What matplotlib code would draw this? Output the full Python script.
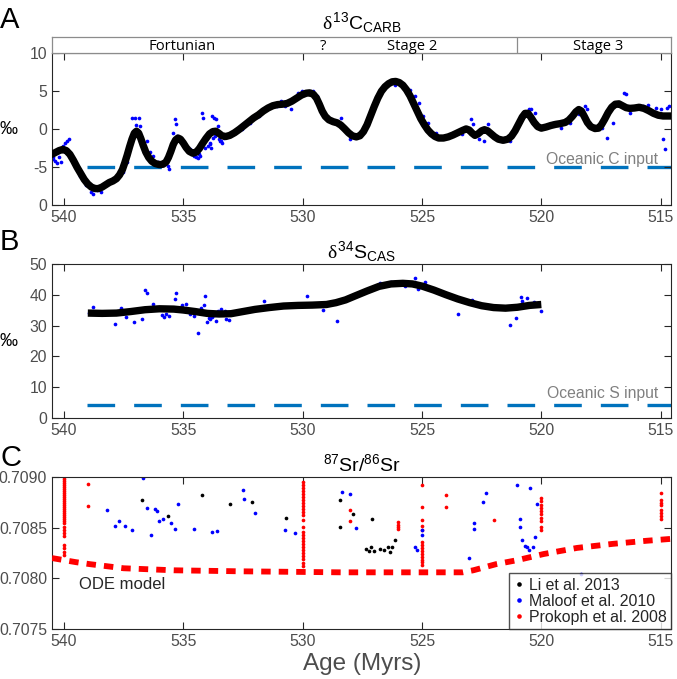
import matplotlib
matplotlib.use("Agg")
import matplotlib.pyplot as plt
from matplotlib.lines import Line2D

plt.rcParams['font.family'] = ['Liberation Sans', 'DejaVu Sans']
plt.rcParams['axes.unicode_minus'] = False
plt.rcParams['lines.scale_dashes'] = False
plt.rcParams['mathtext.fontset'] = 'custom'
plt.rcParams['mathtext.rm'] = 'Liberation Sans'
plt.rcParams['mathtext.it'] = 'Liberation Serif'
plt.rcParams['mathtext.default'] = 'rm'

# ---------------- data ----------------
c13_curve_age = [540.51, 540.35, 540.2, 540.05, 539.9, 539.75, 539.6, 539.45, 539.3, 539.15,
                 539.0, 538.85, 538.7, 538.55, 538.4, 538.25, 538.1, 537.95, 537.8, 537.67,
                 537.55, 537.45, 537.35, 537.25, 537.15, 537.05, 536.96, 536.87, 536.78, 536.68,
                 536.57, 536.45, 536.32, 536.18, 536.0, 535.85, 535.72, 535.62, 535.52, 535.42,
                 535.32, 535.22, 535.12, 535.0, 534.88, 534.75, 534.6, 534.45, 534.32, 534.2,
                 534.05, 533.9, 533.76, 533.64, 533.52, 533.38, 533.22, 533.05, 532.85, 532.65,
                 532.45, 532.25, 532.05, 531.85, 531.65, 531.45, 531.25, 531.05, 530.85, 530.65,
                 530.45, 530.25, 530.05, 529.85, 529.7, 529.55, 529.42, 529.3, 529.18, 529.05,
                 528.9, 528.72, 528.55, 528.4, 528.25, 528.08, 527.92, 527.75, 527.6, 527.45,
                 527.3, 527.15, 527.0, 526.85, 526.7, 526.55, 526.4, 526.25, 526.1, 525.95,
                 525.8, 525.65, 525.5, 525.35, 525.2, 525.05, 524.9, 524.75, 524.6, 524.45,
                 524.3, 524.1, 523.9, 523.7, 523.5, 523.3, 523.15, 523.02, 522.9, 522.78,
                 522.65, 522.5, 522.38, 522.25, 522.1, 521.95, 521.8, 521.6, 521.4, 521.25,
                 521.1, 520.95, 520.8, 520.68, 520.56, 520.44, 520.3, 520.15, 520.0, 519.8,
                 519.6, 519.4, 519.2, 519.0, 518.85, 518.7, 518.55, 518.43, 518.32, 518.2,
                 518.07, 517.93, 517.75, 517.6, 517.48, 517.35, 517.2, 517.05, 516.9, 516.75,
                 516.6, 516.45, 516.3, 516.1, 515.9, 515.7, 515.5, 515.3, 515.1, 514.9,
                 514.54]
c13_curve_val = [-3.3, -3.05, -2.8, -2.65, -2.8, -3.3, -4.1, -5.0, -5.8, -6.6,
                 -7.2, -7.6, -7.8, -7.8, -7.6, -7.3, -7.0, -6.8, -6.5, -6.0,
                 -5.3, -4.4, -3.4, -2.3, -1.3, -0.5, -0.25, -0.5, -1.2, -2.1,
                 -3.0, -3.7, -4.2, -4.5, -4.65, -4.6, -4.3, -3.7, -2.9, -2.0,
                 -1.4, -1.15, -1.3, -1.8, -2.4, -2.9, -3.15, -3.0, -2.5, -1.9,
                 -1.2, -0.6, -0.3, -0.25, -0.5, -0.85, -0.95, -0.8, -0.45, 0.0,
                 0.5, 1.0, 1.5, 1.9, 2.4, 2.8, 3.1, 3.25, 3.3, 3.4,
                 3.7, 4.1, 4.5, 4.75, 4.8, 4.6, 4.1, 3.3, 2.4, 1.7,
                 1.25, 1.0, 0.85, 0.55, 0.1, -0.45, -0.85, -1.0, -0.85, -0.3,
                 0.6, 1.8, 3.0, 4.1, 5.0, 5.6, 6.0, 6.25, 6.3, 6.15,
                 5.8, 5.2, 4.4, 3.4, 2.4, 1.4, 0.6, -0.1, -0.6, -0.95,
                 -1.15, -1.15, -1.0, -0.75, -0.45, -0.15, 0.05, -0.1, -0.5, -0.8,
                 -0.6, -0.2, -0.05, -0.2, -0.6, -1.0, -1.3, -1.45, -1.3, -0.9,
                 -0.2, 0.7, 1.6, 2.1, 2.1, 1.6, 0.9, 0.35, 0.15, 0.3,
                 0.5, 0.65, 0.75, 0.9, 1.2, 1.7, 2.3, 2.6, 2.4, 1.7,
                 0.9, 0.35, 0.1, 0.15, 0.6, 1.3, 2.2, 2.9, 3.3, 3.35,
                 3.1, 2.85, 2.75, 2.8, 2.9, 2.75, 2.45, 2.1, 1.85, 1.75,
                 1.75]

c13_age = [540.47, 540.36, 540.14, 540.05, 539.96, 539.88, 539.79, 539.51, 539.33, 539.06,
           538.88, 538.78, 538.61, 538.43, 538.34, 538.07, 537.88, 537.70, 537.52, 537.35,
           537.16, 537.03, 536.85, 536.80, 536.98, 536.53, 536.38, 536.25, 536.08, 535.81,
           535.62, 535.58, 535.71, 535.35, 535.32, 535.44, 535.26, 534.72, 534.54, 534.45,
           534.36, 534.22, 534.18, 533.99, 533.90, 533.81, 533.72, 533.63, 533.55, 533.46,
           533.36, 533.27, 532.91, 532.54, 532.19, 531.83, 531.64, 531.46, 531.09, 530.92,
           530.74, 530.47, 530.19, 530.01, 529.75, 529.57, 529.38, 529.2, 529.02, 528.75,
           528.48, 528.39, 528.21, 528.03, 526.12, 525.86, 525.49, 525.31, 525.13, 524.95,
           524.76, 524.41, 524.05, 523.68, 523.33, 522.96, 522.87, 522.6, 522.41, 522.23,
           522.06, 521.88, 521.33, 520.52, 520.43, 520.25, 519.88, 519.53, 519.16, 518.8,
           518.43, 518.17, 518.08, 517.71, 517.44, 517.26, 516.99, 516.54, 516.45, 516.27,
           516.08, 515.73, 515.55, 515.18, 515.0, 514.91, 514.82, 514.72, 514.63,
           540.45, 540.3, 540.22, 534.4, 534.3, 534.1, 533.95, 533.88, 533.84, 533.75,
           533.68, 533.5, 533.4, 533.3]
c13_val = [-3.70, -4.13, -4.35, -2.17, -1.74, -1.52, -1.30, -5.0, -6.09, -7.39,
           -8.26, -8.48, -8.04, -8.26, -7.17, -6.74, -6.52, -6.09, -5.65, -4.35,
           1.52, 1.52, 1.52, 0.43, 0.52, -1.52, -3.04, -3.48, -4.35, -4.57,
           -4.78, -5.22, -3.91, 1.30, 0.65, -0.43, -0.87, -2.61, -3.48, -3.70,
           -3.26, 2.09, 1.52, -1.30, -1.74, 1.74, 1.52, 1.30, 0.43, -1.52,
           -1.74, -0.87, -0.43, 0.0, 0.87, 1.74, 2.61, 2.83, 3.04, 3.70,
           3.04, 2.61, 4.78, 5.0, 4.78, 5.0, 4.35, 1.96, 1.74, 1.09,
           0.65, 1.52, 0.0, -1.30, 5.87, 6.09, 5.22, 4.35, 3.48, 1.74,
           0.87, -0.43, -1.09, -0.43, -0.65, 1.30, 0.65, -1.30, -1.52, 0.65,
           -0.43, -0.87, -1.52, 2.61, 2.61, 2.17, 0.22, 0.87, 0.22, 0.87,
           1.96, 3.04, 2.61, 0.0, 0.22, -1.09, 0.87, 4.78, 4.70, 2.17,
           2.83, 3.04, 3.26, 2.83, 2.61, -1.30, -2.61, 2.83, 3.04,
           -3.9, -4.4, -3.6, -3.8, -3.5, -2.5, -2.2, -1.9, -2.4, -1.1,
           -0.9, -1.3, -1.6, -1.2]

s34_curve_age = [539.0, 538.4, 537.8, 537.2, 536.6, 536.0, 535.4, 535.0, 534.5, 534.0,
                 533.5, 533.0, 532.5, 532.0, 531.4, 530.8, 530.2, 529.6, 529.0, 528.6,
                 528.2, 527.8, 527.3, 526.8, 526.3, 525.8, 525.4, 525.0, 524.5, 524.0,
                 523.5, 523.0, 522.5, 522.0, 521.5, 521.0, 520.5, 520.0]
s34_curve_val = [34.1, 34.0, 34.1, 34.6, 35.2, 35.5, 35.4, 35.1, 34.6, 34.0,
                 33.8, 33.9, 34.6, 35.3, 35.9, 36.4, 36.6, 36.7, 36.9, 37.5,
                 38.4, 39.7, 41.3, 42.8, 43.6, 43.8, 43.6, 42.9, 41.6, 40.1,
                 38.7, 37.5, 36.5, 35.9, 35.7, 36.0, 36.6, 36.9]

s34_age = [538.97, 538.79, 537.88, 537.61, 537.40, 537.07, 536.71, 536.62, 536.53, 536.27,
           535.89, 535.80, 535.71, 535.59, 535.35, 535.31, 535.04, 534.90, 534.72, 534.54,
           534.39, 534.27, 534.18, 534.12, 534.08, 533.99, 533.94, 533.87, 533.81, 533.72,
           533.63, 533.54, 533.42, 533.27, 533.23, 533.09, 531.61, 529.80, 529.15, 528.57,
           528.39, 526.76, 526.31, 526.18, 525.73, 525.31, 525.17, 524.86, 523.50, 523.32,
           522.92, 521.33, 521.06, 520.84, 520.79, 520.61, 520.30, 520.03]
s34_val = [34.0, 36.0, 30.5, 35.7, 32.7, 31.2, 32.3, 41.6, 40.8, 37.2,
           33.5, 32.7, 33.8, 33.2, 38.8, 40.5, 36.6, 37.0, 33.7, 33.3,
           27.7, 35.8, 34.9, 36.8, 39.7, 31.3, 32.5, 32.1, 32.9, 33.5,
           31.4, 34.8, 35.5, 34.8, 32.1, 32.0, 37.9, 39.7, 35.1, 31.4,
           38.5, 44.0, 44.3, 44.2, 42.9, 45.4, 41.8, 44.3, 33.8, 38.6,
           38.4, 30.2, 32.4, 39.3, 37.9, 38.9, 37.6, 34.9]

li_age = [536.71, 535.62, 534.21, 533.05, 532.13, 530.68, 528.42, 528.44, 527.88, 527.08,
          527.34, 527.21, 527.12, 526.99, 526.76, 526.61, 526.43, 526.34, 526.25, 526.13]
li_val = [0.70877, 0.70861, 0.70882, 0.70873, 0.70875, 0.70859, 0.70877, 0.70851, 0.70863, 0.70858,
          0.70829, 0.70827, 0.70831, 0.70827, 0.70829, 0.70828, 0.70831, 0.70826, 0.70831, 0.70838]

maloof_age = [538.19, 537.87, 537.68, 537.43, 537.14, 536.69, 536.51, 536.35, 536.20, 536.09,
              536.02, 535.84, 535.53, 535.35, 535.22, 534.54, 533.78, 533.58, 532.51, 532.44,
              532.00, 530.74, 530.30, 528.37, 528.01, 527.75, 525.31, 525.22, 524.99, 525.00,
              523.01, 522.83, 522.80, 522.44, 522.31, 521.28, 521.02, 520.91, 520.90, 520.82,
              520.70, 520.61, 520.52, 520.46, 520.34, 520.28, 520.19, 518.35]
maloof_val = [0.70867, 0.70852, 0.70856, 0.70852, 0.70848, 0.70899, 0.70869, 0.70843, 0.70868, 0.70866,
              0.70856, 0.70858, 0.70854, 0.70849, 0.70873, 0.70849, 0.70846, 0.70847, 0.70887, 0.70878,
              0.70864, 0.70848, 0.70845, 0.70885, 0.70883, 0.70850, 0.70831, 0.70828, 0.70848, 0.70843,
              0.70820, 0.70854, 0.70849, 0.70875, 0.70884, 0.70817, 0.70892, 0.70858, 0.70851, 0.70838,
              0.70832, 0.70831, 0.70828, 0.70889, 0.70831, 0.70841, 0.70873, 0.70804]

prok_540 = [0.70900, 0.70898, 0.70896, 0.70894, 0.70892, 0.70890, 0.70888, 0.70886, 0.70884, 0.70882,
            0.70880, 0.70878, 0.70876, 0.70874, 0.70872, 0.70870, 0.70868, 0.70866, 0.70864, 0.70862,
            0.70860, 0.70858, 0.70856, 0.70854, 0.70851, 0.70848, 0.70845, 0.70842, 0.70833, 0.70830,
            0.70826, 0.70823]
prok_539 = [0.70893, 0.70871]
prok_530 = [0.70895, 0.70892, 0.70889, 0.70886, 0.70883, 0.70880, 0.70877, 0.70874, 0.70871, 0.70868,
            0.70865, 0.70862, 0.70857, 0.70851, 0.70846, 0.70843, 0.70840, 0.70837, 0.70834, 0.70831,
            0.70828, 0.70825, 0.70822, 0.70819, 0.70815, 0.70812]
prok_528 = [0.70867, 0.70856]
prok_526 = [0.70855, 0.70853, 0.70851, 0.70849]
prok_525 = [0.70892, 0.70870, 0.70857, 0.70852, 0.70848, 0.70836, 0.70833, 0.70830, 0.70827, 0.70824,
            0.70821, 0.70818, 0.70816, 0.70813]
prok_524 = [0.70882, 0.70870]
prok_522 = [0.70857]
prok_520 = [0.70879, 0.70876, 0.70872, 0.70869, 0.70866, 0.70863, 0.70859, 0.70856, 0.70851, 0.70848]
prok_515 = [0.70884, 0.70877, 0.70874, 0.70872, 0.70867, 0.70864, 0.70861, 0.70858]

ode_age = [540.5, 539.5, 538.9, 537.5, 535.4, 532.6, 528.4, 523.3, 522.85, 521.9,
           521.0, 519.9, 518.5, 517.0, 515.6, 514.5]
ode_val = [0.70820, 0.70816, 0.70814, 0.70810, 0.70808, 0.70807, 0.70806, 0.70806, 0.70808, 0.70814,
           0.70818, 0.70824, 0.70830, 0.70834, 0.70837, 0.70839]

stage_names = ['Fortunian', '?', 'Stage 2', 'Stage 3']
stage_label_age = [535.06, 529.16, 525.4, 517.6]
stage_boundary = 521.0

x_ticks = [540, 535, 530, 525, 520, 515]
c_ticks = [-10, -5, 0, 5, 10]
c_ticklabels = ['0', '-5', '0', '5', '10']
s_ticks = [0, 10, 20, 30, 40, 50]
sr_ticks = [0.7075, 0.7080, 0.7085, 0.7090]
sr_ticklabels = ['0.7075', '0.7080', '0.7085', '0.7090']
c_input = -5
s_input = 4

# ---------------- figure ----------------
W, H = 677, 679
fig = plt.figure(figsize=(W / 100, H / 100), dpi=100)

def fx(px):
    return px / W

def fy(py):
    return 1 - py / H

left, right = 52, 671.4
XLIM = (540.5, 514.55)
axcol = (0.15, 0.15, 0.15)
tickcol = (0.3, 0.3, 0.3)
blue_line = '#0072BD'


def style(ax):
    ax.set_xlim(*XLIM)
    ax.set_xticks(x_ticks)
    ax.tick_params(direction='in', top=True, right=True, length=5, width=0.8,
                   color=axcol, labelcolor=tickcol, labelsize=11.3, pad=3.5)
    for s in ax.spines.values():
        s.set_color(axcol)
        s.set_linewidth(0.8)


axA = fig.add_axes([fx(left), fy(205.3), fx(right - left), (205.3 - 53.3) / H])
axS = fig.add_axes([fx(left), fy(53.3), fx(right - left), (53.3 - 36.7) / H])
axB = fig.add_axes([fx(left), fy(417.7), fx(right - left), (417.7 - 264.3) / H])
axC = fig.add_axes([fx(left), fy(629.3), fx(right - left), (629.3 - 476.7) / H])

# ---- panel A ----
style(axA)
axA.set_ylim(-10, 10)
axA.set_yticks(c_ticks)
axA.set_yticklabels(c_ticklabels)
axA.plot([539.05, 514.0], [c_input, c_input], color=blue_line, lw=2.4,
         dashes=(19.9, 13.7), dash_capstyle='butt', zorder=1)
axA.scatter(c13_age, c13_val, s=7, color='#0000FF', linewidths=0, zorder=2)
axA.plot(c13_curve_age, c13_curve_val, color='black', lw=5.3, solid_joinstyle='round',
         solid_capstyle='round', zorder=3)
axA.text(515.11, -4.6, 'Oceanic C input', color=(0.5, 0.5, 0.5), fontsize=11.3,
         ha='right', va='baseline', zorder=4)

# stage bar
axS.set_xlim(*XLIM)
axS.set_ylim(0, 1)
axS.set_xticks([])
axS.set_yticks([])
for s in axS.spines.values():
    s.set_color((0.55, 0.55, 0.55))
    s.set_linewidth(0.9)
axS.axvline(stage_boundary, color=(0.55, 0.55, 0.55), lw=0.9)
for name, a in zip(stage_names, stage_label_age):
    axS.text(a, 0.2, name, ha='center', va='baseline', fontsize=10.6,
             family=['Open Sans', 'DejaVu Sans'], color='black')

# ---- panel B ----
style(axB)
axB.set_ylim(0, 50)
axB.set_yticks(s_ticks)
axB.plot([539.05, 514.0], [s_input, s_input], color=blue_line, lw=2.4,
         dashes=(19.9, 13.7), dash_capstyle='butt', zorder=1)
axB.scatter(s34_age, s34_val, s=7, color='#0000FF', linewidths=0, zorder=2)
axB.plot(s34_curve_age, s34_curve_val, color='black', lw=5.3, solid_capstyle='butt',
         solid_joinstyle='round', zorder=3)
axB.text(515.11, 6.3, 'Oceanic S input', color=(0.5, 0.5, 0.5), fontsize=11.3,
         ha='right', va='baseline', zorder=4)

# ---- panel C ----
style(axC)
axC.set_ylim(0.7075, 0.7090)
axC.set_yticks(sr_ticks)
axC.set_yticklabels(sr_ticklabels)
prok_cols = [(540.0, prok_540), (539.0, prok_539), (530.0, prok_530), (528.0, prok_528),
             (526.0, prok_526), (525.0, prok_525), (524.0, prok_524), (522.0, prok_522),
             (520.0, prok_520), (515.0, prok_515)]
prok_age = [a for a, vals in prok_cols for _ in vals]
prok_val = [v for a, vals in prok_cols for v in vals]
axC.scatter(prok_age, prok_val, s=7, color='#FF0000', linewidths=0, zorder=2)
axC.scatter(maloof_age, maloof_val, s=7, color='#0000FF', linewidths=0, zorder=2)
axC.scatter(li_age, li_val, s=7, color='black', linewidths=0, zorder=2)
axC.plot(ode_age, ode_val, color='#FF0000', lw=4.2, dashes=(6.8, 5.8),
         dash_capstyle='butt', zorder=3)
axC.text(539.38, 0.707896, 'ODE model', color=(0.15, 0.15, 0.15), fontsize=12,
         ha='left', va='baseline')
axC.set_xlabel('Age (Myrs)', fontsize=17.5, color=(0.3, 0.3, 0.3), labelpad=3)

handles = [Line2D([], [], ls='none', marker='o', ms=3.3, mec='none', mfc=c)
           for c in ('black', '#0000FF', '#FF0000')]
leg = axC.legend(handles, ['Li et al. 2013', 'Maloof et al. 2010', 'Prokoph et al. 2008'],
                 loc='lower right', borderaxespad=0, fontsize=11.4, frameon=True,
                 fancybox=False, edgecolor=axcol, handlelength=0.7, handletextpad=0.25,
                 labelspacing=0.05, borderpad=0.3, labelcolor=(0.15, 0.15, 0.15))
leg.get_frame().set_linewidth(1.0)
leg.set_zorder(5)

# ---- titles, labels ----
cx = fx((left + right) / 2)
fig.text(cx, fy(29), r'$\mathit{\delta}^{13}$C$_{\mathrm{CARB}}$', ha='center', va='baseline', fontsize=14)
fig.text(cx, fy(258), r'$\mathit{\delta}^{34}$S$_{\mathrm{CAS}}$', ha='center', va='baseline', fontsize=14)
fig.text(cx, fy(471), r'$^{87}$Sr/$^{86}$Sr', ha='center', va='baseline', fontsize=14)

fig.text(0.0, fy(28), 'A', fontsize=21, ha='left', va='baseline')
fig.text(0.0, fy(250), 'B', fontsize=21, ha='left', va='baseline')
fig.text(0.0, fy(466), 'C', fontsize=21, ha='left', va='baseline')

fig.text(0.0, fy(129.3), '\u2030', fontsize=13, ha='left', va='center')
fig.text(0.0, fy(341), '\u2030', fontsize=13, ha='left', va='center')

fig.savefig('out.png', dpi=100)
